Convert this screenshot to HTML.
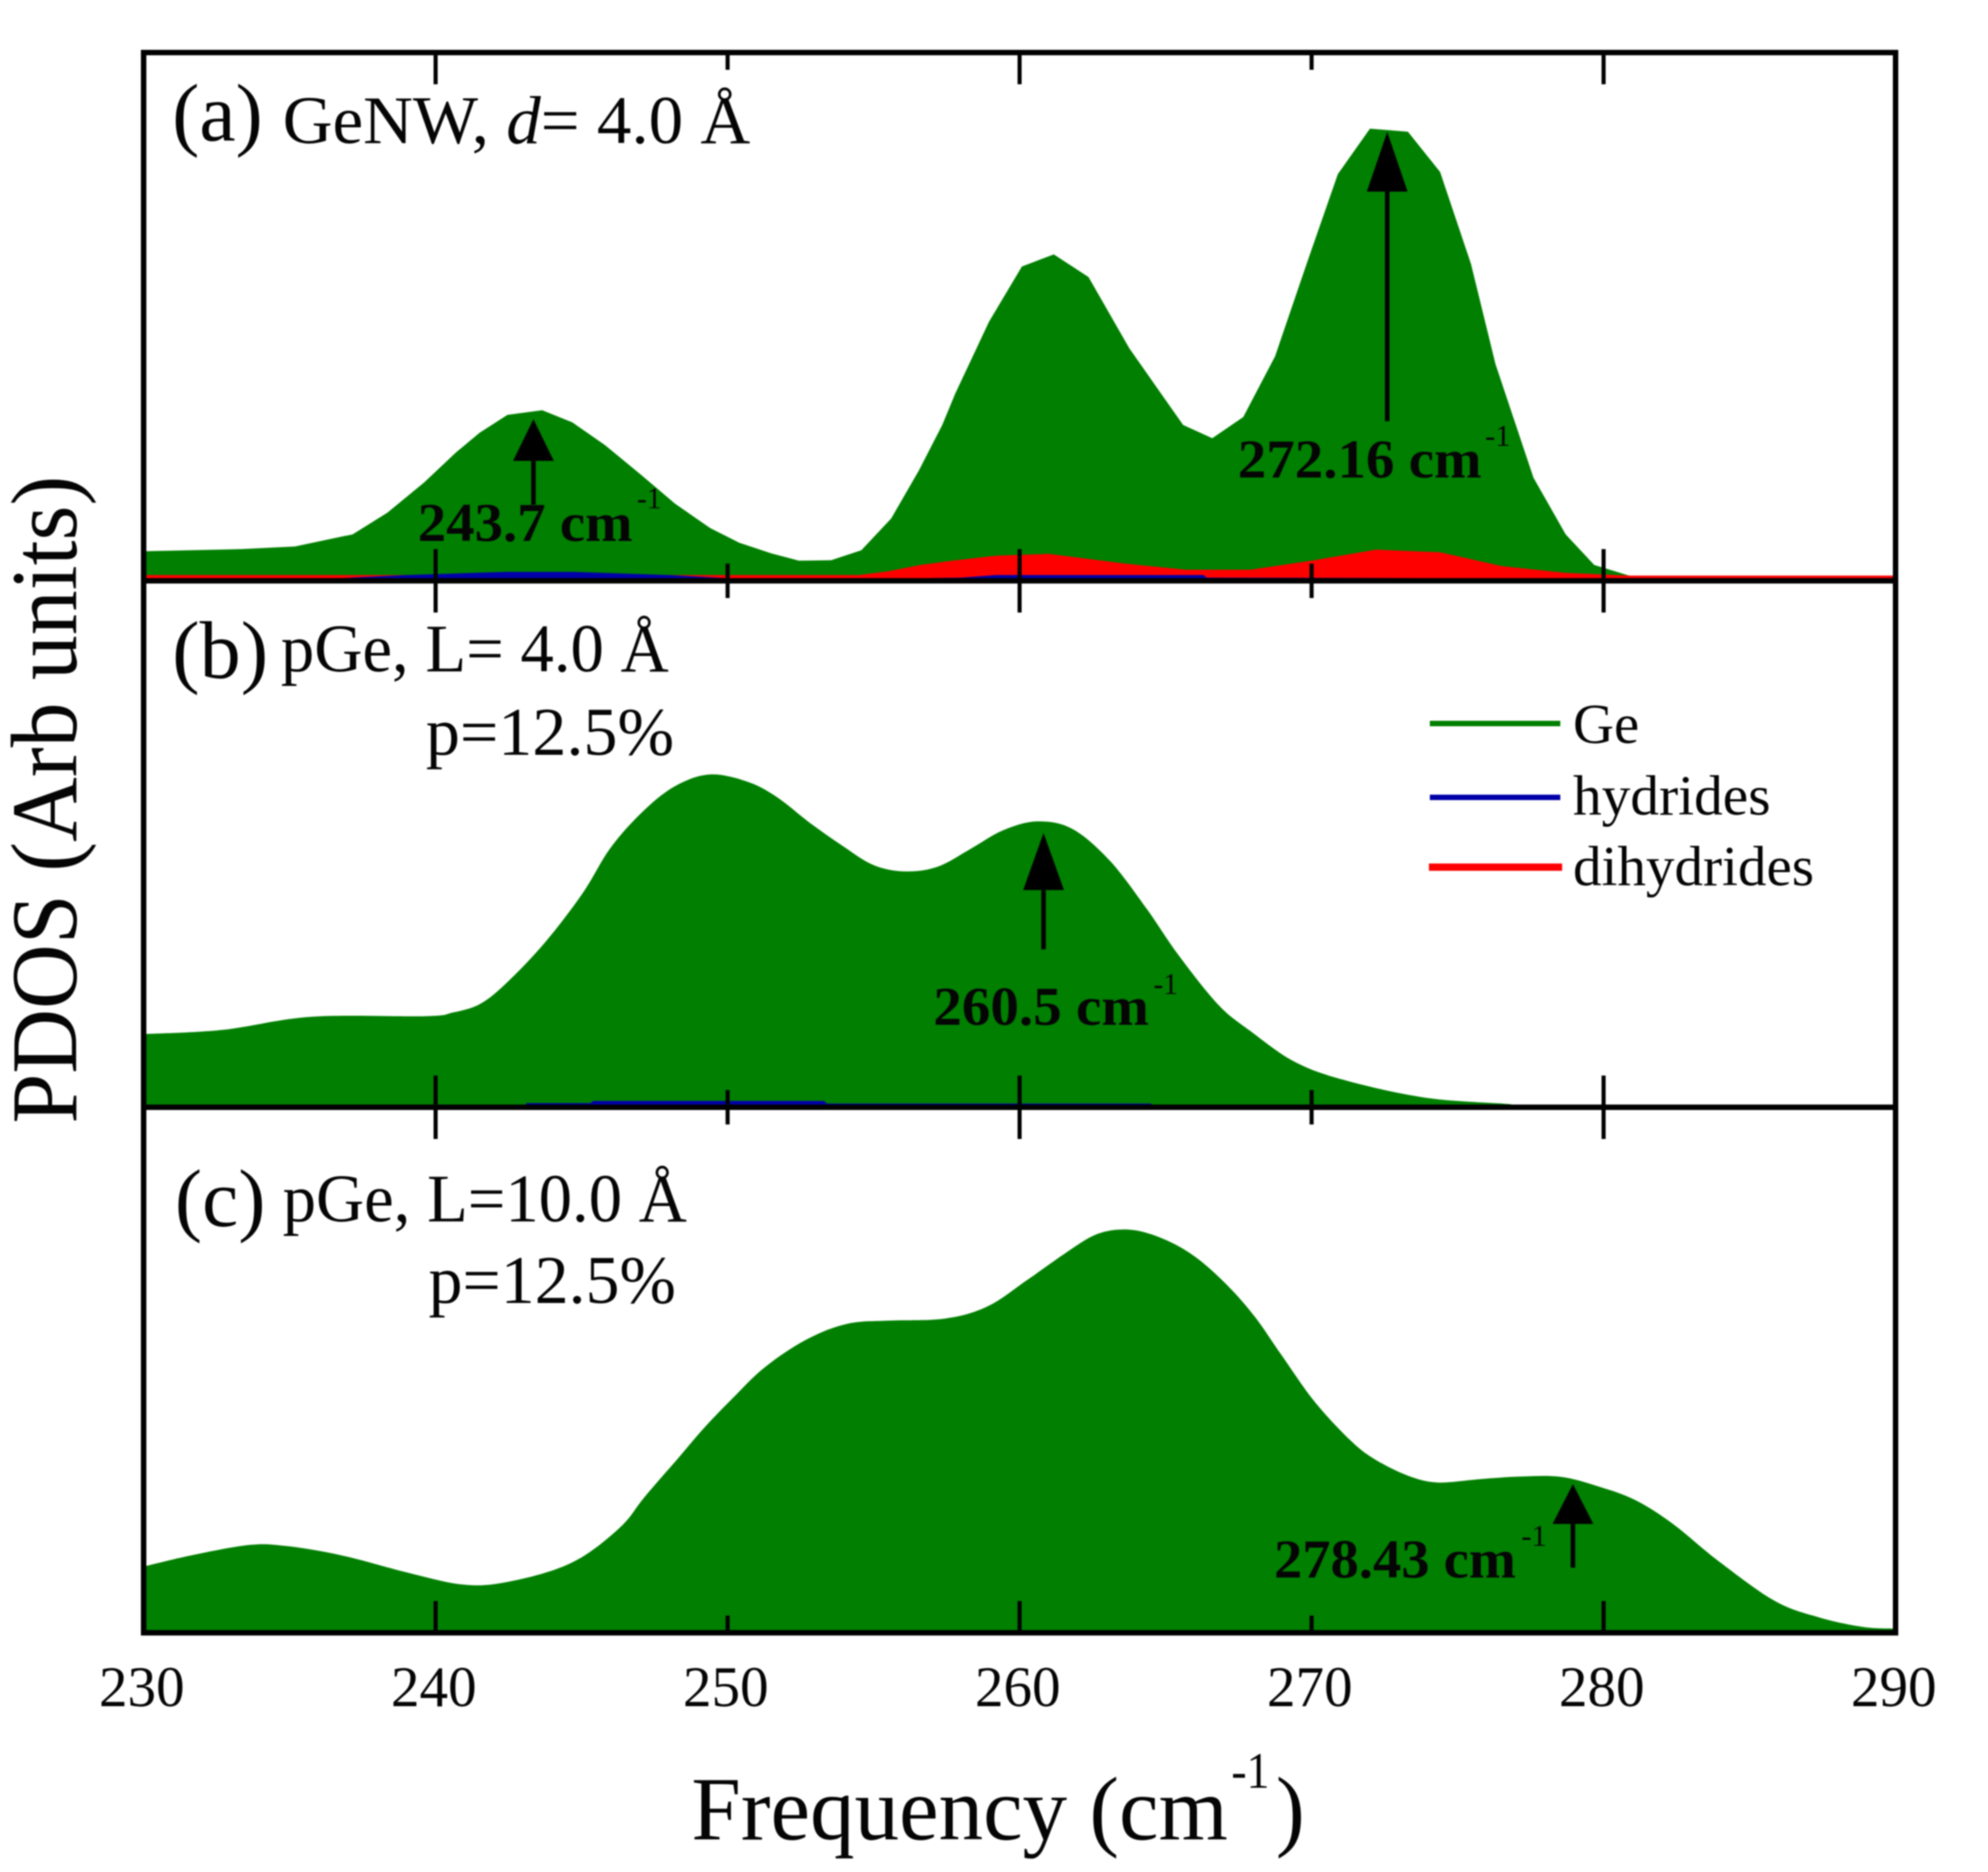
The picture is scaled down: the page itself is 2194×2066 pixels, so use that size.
<!DOCTYPE html>
<html lang="en">
<head>
<meta charset="utf-8">
<title>PDOS vs Frequency</title>
<style>
  html, body { margin: 0; padding: 0; background: #fff; }
  #chart { display: block; width: 2194px; height: 2066px; filter: blur(0.8px); }
  text { font-family: "Liberation Serif", "Noto Serif CJK SC", serif; fill: #050505; }
  .panel-label { font-size: 90px; }
  .panel-text { font-size: 75px; }
  .tick-label { font-size: 63px; text-anchor: middle; }
  .legend-text { font-size: 62px; }
  .peak { font-size: 60px; font-weight: bold; }
  .peak-sup { font-size: 34px; }
</style>
</head>
<body>
<svg id="chart" xmlns="http://www.w3.org/2000/svg" width="2194" height="2066" viewBox="0 0 2194 2066">
  <rect x="0" y="0" width="2194" height="2066" fill="#ffffff"/>
  <g id="series"></g>
  <g id="ticks"></g>
  <g id="frames"></g>
  <g id="arrows"></g>
  <g id="ticklabels"></g>

  <text class="panel-label" x="190" y="155" textLength="100" lengthAdjust="spacingAndGlyphs">(a)</text>
  <text class="panel-text" x="312" y="158" textLength="516" lengthAdjust="spacingAndGlyphs">GeNW, <tspan font-style="italic">d</tspan>= 4.0 Å</text>

  <text class="panel-label" x="190" y="748" textLength="106" lengthAdjust="spacingAndGlyphs">(b)</text>
  <text class="panel-text" x="310" y="741" textLength="428" lengthAdjust="spacingAndGlyphs">pGe, L= 4.0 Å</text>
  <text class="panel-text" x="470" y="833" textLength="274" lengthAdjust="spacingAndGlyphs">p=12.5%</text>

  <text class="panel-label" x="193" y="1353" textLength="100" lengthAdjust="spacingAndGlyphs">(c)</text>
  <text class="panel-text" x="312" y="1348" textLength="446" lengthAdjust="spacingAndGlyphs">pGe, L=10.0 Å</text>
  <text class="panel-text" x="473" y="1438" textLength="273" lengthAdjust="spacingAndGlyphs">p=12.5%</text>

  <text class="peak" x="461" y="597" textLength="237" lengthAdjust="spacingAndGlyphs">243.7 cm</text>
  <text class="peak-sup" x="703" y="561" textLength="27" lengthAdjust="spacingAndGlyphs">-1</text>
  <text class="peak" x="1366" y="527" textLength="269" lengthAdjust="spacingAndGlyphs">272.16 cm</text>
  <text class="peak-sup" x="1639" y="492" textLength="28" lengthAdjust="spacingAndGlyphs">-1</text>
  <text class="peak" x="1030" y="1131" textLength="238" lengthAdjust="spacingAndGlyphs">260.5 cm</text>
  <text class="peak-sup" x="1273" y="1097" textLength="27" lengthAdjust="spacingAndGlyphs">-1</text>
  <text class="peak" x="1406" y="1741" textLength="267" lengthAdjust="spacingAndGlyphs">278.43 cm</text>
  <text class="peak-sup" x="1679" y="1706" textLength="28" lengthAdjust="spacingAndGlyphs">-1</text>

  <g>
    <line x1="1578" y1="798.5" x2="1722" y2="798.5" stroke="#007f00" stroke-width="6"/>
    <text class="legend-text" x="1736" y="820" textLength="73" lengthAdjust="spacingAndGlyphs">Ge</text>
    <line x1="1578" y1="880" x2="1722" y2="880" stroke="#0000a8" stroke-width="6"/>
    <text class="legend-text" x="1736" y="899" textLength="218" lengthAdjust="spacingAndGlyphs">hydrides</text>
    <line x1="1577" y1="957" x2="1724" y2="957" stroke="#ff0000" stroke-width="8"/>
    <text class="legend-text" x="1736" y="977" textLength="266" lengthAdjust="spacingAndGlyphs">dihydrides</text>
  </g>

  <text x="84" y="1240" transform="rotate(-90 84 1240)" font-size="104" textLength="715" lengthAdjust="spacingAndGlyphs">PDOS (Arb units)</text>
  <text x="763" y="2030" font-size="100" textLength="592" lengthAdjust="spacingAndGlyphs">Frequency (cm</text>
  <text x="1359" y="1973" font-size="56" textLength="42" lengthAdjust="spacingAndGlyphs">-1</text>
  <text x="1408" y="2030" font-size="100" textLength="32" lengthAdjust="spacingAndGlyphs">)</text>
</svg>

<script>
// Panel (a) series
const freqA = [230,233.35,235.18,237.16,238.35,239.6,240.7,241.5,242.46,243.65,244.68,245.8,247.05,248.2,249.4,250.4,251.5,252.44,253.55,254.58,255.6,256.55,257.35,257.8,258.95,260.08,261.17,262.36,263.76,265.6,266.6,267.66,268.75,269.83,270.9,272,273.3,274.4,275.46,276.3,277.6,278.7,279.68,280.87,281.5,290];
const geA = [5.6,6,6.5,8.8,12.9,18.6,24.3,28,31.4,32.3,30,25.7,20,14.6,10,7.2,5.2,3.8,3.9,5.8,11.8,20.9,29.5,35.5,49,59.5,61.8,57.5,44,29.5,27,31,42.5,60,77,85.6,85,77.4,60,41,19.5,8.8,3,1,0.3,0];
const dihydrideFreqA = [230,254.5,255.5,256.6,257.7,259.2,261,263.55,265.7,267.9,270,272.2,274.4,276.5,278.7,280.9,290];
const dihydrideA = [1.1,1.1,1.8,3,3.8,4.75,5.1,3.3,2.1,2.1,3.8,5.9,5.4,2.8,1.5,1,1];
const hydrideFreqA = [230,236,237.5,239,242.4,244.7,248,250,254,258,259.2,266.3,266.4,275,276,290];
const hydrideA = [0.3,0.3,0.7,1.1,1.7,1.7,1.1,0.5,0.3,0.6,1.1,1.1,0.6,0.5,0.2,0.1];

// Panel (b) series
const freqB = [230,232.7,235.75,239.66,240.6,241.55,242.5,243.76,245.03,245.98,247.08,248.2,249.38,250.65,251.67,252.8,253.9,255,256.1,257.2,258.3,259.43,260.6,261.8,263.08,264.34,265.43,266.8,267.9,269.4,271.1,273.9,276.76,277.2,290];
const geB = [13.9,14.7,17.2,17.3,18,19.7,24,31.4,40.6,49.2,56.1,61,63.2,61.9,59,54.1,49.8,46,44.8,45.7,49,52.6,54.3,52.9,46.9,37.8,29,19.5,14.5,8.7,5.2,1.8,0.6,0,0];
const hydrideFreqB = [243.1,245.3,245.4,253.3,253.4,264.5,264.6];
const hydrideB = [0.8,0.8,1.2,1.2,0.7,0.7,0];

// Panel (c) series
const freqC = [230,231.6,233.6,234.9,236.8,239,240.75,242.05,243.8,245.1,246.4,247.15,248.27,249.2,250.15,251.27,252.7,254.1,255.5,257.45,258.9,260.3,261.56,262.67,263.78,264.9,266,267.1,268.06,269,270.1,271.35,272.2,273.3,274.3,275.7,277,278.5,279.8,281.1,282.4,283.9,285.85,287.4,288.9,290];
const geC = [12.6,14.7,16.7,16.5,14.7,11.5,9.3,9.3,11.5,14.7,20.5,25.8,33,39,44.5,50.5,55.8,58.8,59.4,59.8,62.1,67.3,72.2,75.9,76.7,75,71.6,66.2,60.1,52.6,44,36.5,32.9,29.9,28.6,29.2,29.7,29.7,27.9,25.2,20.6,13.8,6.1,2.9,1.1,0.8];

// Axis data
const majorTicks = [240,260,280];
const minorTicks = [250,270];
const tickValues = [230,240,250,260,270,280,290];
const tickLabels = ["230","240","250","260","270","280","290"];

// Peak annotations: frequency, tip value, tail value
const peakFreqs = [243.35,272.59,260.82,278.95];
const peakTips = [30.6,85,52.1,28.3];
const peakTails = [14.4,30.2,30,12.4];
const peakPanels = [0,0,1,2];
const peakNames = ["243","272","260","278"];

const XMIN = 230, XMAX = 290, LEFT = 158.5, RIGHT = 2092;
const TOPS = [58, 641, 1222], BOTTOMS = [641, 1222, 1802];
const HEAD_LENGTHS = [46, 66, 63, 44];
const NS = "http://www.w3.org/2000/svg";

function xScale(f) { return LEFT + (f - XMIN) / (XMAX - XMIN) * (RIGHT - LEFT); }
function yScale(panel, v) { return BOTTOMS[panel] - v / 100 * (BOTTOMS[panel] - TOPS[panel]); }

function linearArea(panel, xs, ys) {
  let d = "M" + xScale(xs[0]).toFixed(1) + "," + BOTTOMS[panel];
  for (let i = 0; i < xs.length; i++) {
    d += "L" + xScale(xs[i]).toFixed(1) + "," + yScale(panel, ys[i]).toFixed(1);
  }
  return d + "L" + xScale(xs[xs.length - 1]).toFixed(1) + "," + BOTTOMS[panel] + "Z";
}

function smoothArea(panel, xs, ys) {
  const px = xs.map(xScale);
  const py = ys.map(function (v) { return yScale(panel, v); });
  let d = "M" + px[0].toFixed(1) + "," + BOTTOMS[panel] + "L" + px[0].toFixed(1) + "," + py[0].toFixed(1);
  for (let i = 0; i < px.length - 1; i++) {
    const a = Math.max(i - 1, 0), b = Math.min(i + 2, px.length - 1);
    const c1x = px[i] + (px[i + 1] - px[a]) / 6, c1y = py[i] + (py[i + 1] - py[a]) / 6;
    const c2x = px[i + 1] - (px[b] - px[i]) / 6, c2y = py[i + 1] - (py[b] - py[i]) / 6;
    d += "C" + c1x.toFixed(1) + "," + c1y.toFixed(1) + " " + c2x.toFixed(1) + "," + c2y.toFixed(1) + " " + px[i + 1].toFixed(1) + "," + py[i + 1].toFixed(1);
  }
  return d + "L" + px[px.length - 1].toFixed(1) + "," + BOTTOMS[panel] + "Z";
}

const seriesLayer = document.getElementById("series");
const tickLayer = document.getElementById("ticks");
const frameLayer = document.getElementById("frames");
const arrowLayer = document.getElementById("arrows");
const labelLayer = document.getElementById("ticklabels");

function addPath(name, d, fill) {
  const p = document.createElementNS(NS, "path");
  p.setAttribute("d", d);
  p.setAttribute("fill", fill);
  
  
  seriesLayer.appendChild(p);
}

addPath("ge-area-panel-a", linearArea(0, freqA, geA), "#007f00");
addPath("dihydrides-area-panel-a", linearArea(0, dihydrideFreqA, dihydrideA), "#ff0000");
addPath("hydrides-area-panel-a", linearArea(0, hydrideFreqA, hydrideA), "#0000a8");
addPath("ge-area-panel-b", smoothArea(1, freqB, geB), "#007f00");
addPath("hydrides-area-panel-b", linearArea(1, hydrideFreqB, hydrideB), "#0000a8");
addPath("ge-area-panel-c", smoothArea(2, freqC, geC), "#007f00");

function addTick(f, y1, y2, name) {
  const l = document.createElementNS(NS, "line");
  l.setAttribute("x1", xScale(f));
  l.setAttribute("x2", xScale(f));
  l.setAttribute("y1", y1);
  l.setAttribute("y2", y2);
  l.setAttribute("stroke", "#000");
  l.setAttribute("stroke-width", "4.5");
  
  
  tickLayer.appendChild(l);
}

const MAJOR_LEN = 35, MINOR_LEN = 19;
for (let p = 0; p < 3; p++) {
  majorTicks.forEach(function (f) {
    addTick(f, BOTTOMS[p], BOTTOMS[p] - MAJOR_LEN, "x-major-tick-bottom-" + f);
    addTick(f, TOPS[p], TOPS[p] + MAJOR_LEN, "x-major-tick-top-" + f);
  });
  minorTicks.forEach(function (f) {
    addTick(f, BOTTOMS[p], BOTTOMS[p] - MINOR_LEN, "x-minor-tick-bottom-" + f);
    addTick(f, TOPS[p], TOPS[p] + MINOR_LEN, "x-minor-tick-top-" + f);
  });
}

for (let p = 0; p < 3; p++) {
  const r = document.createElementNS(NS, "rect");
  r.setAttribute("x", LEFT);
  r.setAttribute("y", TOPS[p]);
  r.setAttribute("width", RIGHT - LEFT);
  r.setAttribute("height", BOTTOMS[p] - TOPS[p]);
  r.setAttribute("fill", "none");
  r.setAttribute("stroke", "#000");
  r.setAttribute("stroke-width", "6");
  
  
  frameLayer.appendChild(r);
}

peakFreqs.forEach(function (f, i) {
  const p = peakPanels[i];
  const cx = xScale(f);
  const tip = yScale(p, peakTips[i]);
  const tail = yScale(p, peakTails[i]);
  const headBase = tip + HEAD_LENGTHS[i];
  const halfWidth = 22.5;

  const shaft = document.createElementNS(NS, "line");
  shaft.setAttribute("x1", cx);
  shaft.setAttribute("x2", cx);
  shaft.setAttribute("y1", tail);
  shaft.setAttribute("y2", headBase);
  shaft.setAttribute("stroke", "#000");
  shaft.setAttribute("stroke-width", "5");
  
  
  arrowLayer.appendChild(shaft);

  const head = document.createElementNS(NS, "polygon");
  head.setAttribute("points", cx + "," + tip + " " + (cx - halfWidth) + "," + headBase + " " + (cx + halfWidth) + "," + headBase);
  head.setAttribute("fill", "#000");
  
  
  arrowLayer.appendChild(head);
});

tickValues.forEach(function (v, i) {
  const t = document.createElementNS(NS, "text");
  t.setAttribute("class", "tick-label");
  t.setAttribute("x", xScale(v) - 2);
  t.setAttribute("y", 1883);
  t.textContent = tickLabels[i];
  
  
  labelLayer.appendChild(t);
});
</script>
</body>
</html>
